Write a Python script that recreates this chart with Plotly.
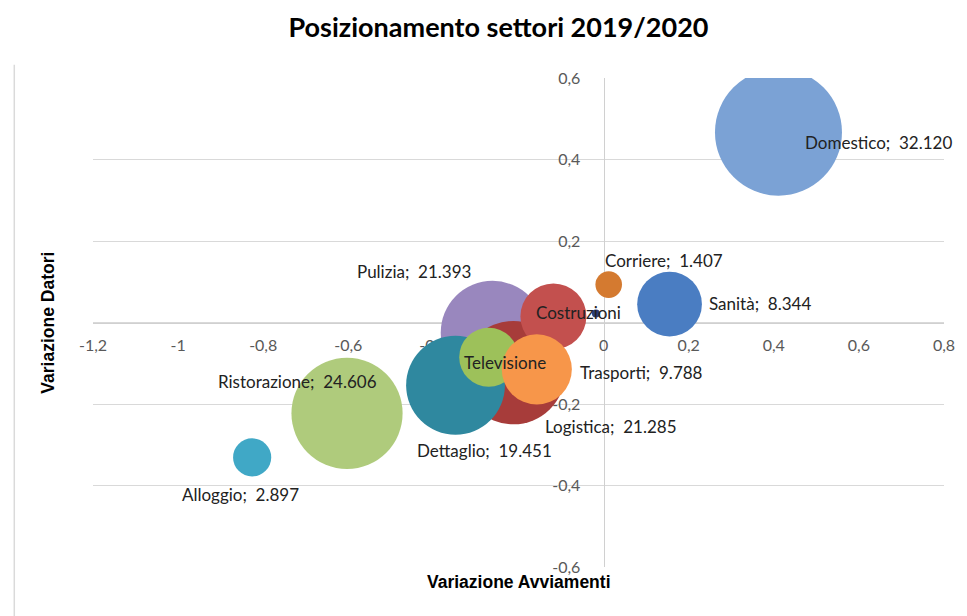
import plotly.graph_objects as go

# ---- data ----
settori = ["Domestico", "Sanità", "Corriere", "Alloggio", "Ristorazione", "Pulizia",
           "Logistica", "Costruzioni", "Dettaglio", "Televisione", "Trasporti", ""]
var_avviamenti = [0.411, 0.155, 0.012, -0.826, -0.603, -0.261,
                  -0.212, -0.118, -0.348, -0.270, -0.157, -0.018]
var_datori = [0.467, 0.045, 0.093, -0.331, -0.223, -0.025,
              -0.123, 0.015, -0.154, -0.085, -0.115, 0.022]
dimensione = [32120, 8344, 1407, 2897, 24606, 21393,
              21285, 8670, 19451, 6930, 9788, 130]
mostra_valore = [True, True, True, True, True, True,
                 True, False, True, False, True, False]

x_tickvals = [-1.2, -1.0, -0.8, -0.6, -0.4, -0.2, 0.0, 0.2, 0.4, 0.6, 0.8]
x_ticktext = ["-1,2", "-1", "-0,8", "-0,6", "-0,4", "-0,2", "0", "0,2", "0,4", "0,6", "0,8"]
y_tickvals = [-0.6, -0.4, -0.2, 0.0, 0.2, 0.4, 0.6]
y_ticktext = ["-0,6", "-0,4", "-0,2", "0", "0,2", "0,4", "0,6"]

# ---- styles ----
colori = ["#7BA2D5", "#4A7DC2", "#D47A30", "#40A8C6", "#AFCB7C", "#9987BE",
          "#A73C3A", "#C3504E", "#2F889F", "#9DC15A", "#F7964A", "#2C3E78"]
# label placement: (xanchor, xshift, yshift)
etichette_pos = {
    "Domestico": ("left", 25, -10),
    "Sanità": ("left", 37, 1),
    "Corriere": ("left", -6, 24),
    "Alloggio": ("center", -12, -37),
    "Ristorazione": ("center", -50, 32),
    "Pulizia": ("right", -20, 61),
    "Logistica": ("left", 30, -54),
    "Costruzioni": ("center", 25, 4),
    "Dettaglio": ("center", 29, -65),
    "Televisione": ("center", 16, -5),
    "Trasporti": ("left", 41, -3),
}

D_MAX = 127
sizeref = 2.0 * max(dimensione) / D_MAX ** 2

def fmt_it(v):
    return f"{v:,}".replace(",", ".")

fig = go.Figure()
fig.add_trace(go.Scatter(
    x=var_avviamenti, y=var_datori, mode="markers",
    marker=dict(size=dimensione, sizemode="area", sizeref=sizeref,
                color=colori, opacity=1, line=dict(width=0)),
    text=settori, hoverinfo="text", showlegend=False,
))

annotations = []
for nome, xv, yv, val, mv in zip(settori, var_avviamenti, var_datori, dimensione, mostra_valore):
    if not nome:
        continue
    xa, xs, ys = etichette_pos[nome]
    testo = f"{nome};\u00a0 {fmt_it(val)}" if mv else nome
    annotations.append(dict(
        x=xv, y=yv, xref="x", yref="y", text=testo, showarrow=False,
        xanchor=xa, yanchor="middle", xshift=xs, yshift=ys,
        font=dict(family="Lato", size=17, color="#222222"),
    ))

annotations.append(dict(
    x=0.5, y=0, xref="paper", yref="paper", yanchor="middle", xanchor="center",
    text="<b>Variazione Avviamenti</b>", showarrow=False, yshift=-15,
    font=dict(family="Liberation Sans", size=17.5, color="#000000"),
))
annotations.append(dict(
    x=-0.0539, y=0.5, xref="paper", yref="paper", xanchor="center", yanchor="middle",
    text="<b>Variazione Datori</b>", showarrow=False, textangle=-90,
    font=dict(family="Liberation Sans", size=17.5, color="#000000"),
))

# page body has an 8px margin: figure occupies 959x608 starting at (8, 8)
fig.update_layout(
    width=959, height=608,
    margin=dict(l=85, r=12, t=70, b=49),
    paper_bgcolor="white", plot_bgcolor="white",
    title=dict(text="<b>Posizionamento settori 2019/2020</b>",
               x=(498.5 - 8) / 959, xanchor="center", y=1 - (28 - 8) / 608, yanchor="middle",
               font=dict(family="Lato", size=27, color="#000000")),
    annotations=annotations,
    shapes=[dict(type="line", xref="paper", yref="paper",
                 x0=-0.0925, x1=-0.0925, y0=1.027, y1=-0.12,
                 line=dict(color="#DADADA", width=1.5))],
)
fig.update_xaxes(
    range=[-1.2, 0.8], tickvals=x_tickvals, ticktext=x_ticktext,
    showgrid=False, zeroline=False, showline=True, linecolor="#D0D0D0", linewidth=1,
    anchor="free", position=0.5, ticks="", ticklabelstandoff=8,
    tickfont=dict(family="Lato", size=16, color="#595959"), layer="below traces",
)
fig.update_yaxes(
    range=[-0.6, 0.6], tickvals=y_tickvals, ticktext=y_ticktext,
    showgrid=True, gridcolor="#D9D9D9", gridwidth=1, zeroline=False,
    showline=True, linecolor="#D0D0D0", linewidth=1,
    anchor="free", position=0.6, ticks="", ticklabelstandoff=20,
    tickfont=dict(family="Lato", size=16, color="#595959"), layer="below traces",
)

fig.write_html("out.html")
